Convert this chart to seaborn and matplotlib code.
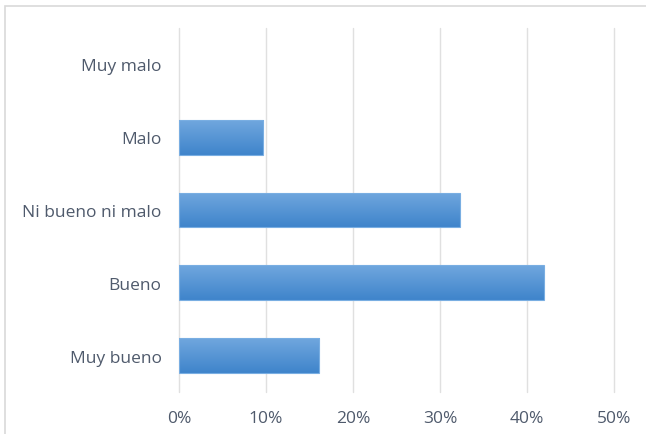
import matplotlib
matplotlib.use("Agg")
import matplotlib.pyplot as plt
import matplotlib.patches as mpatches
from matplotlib.colors import LinearSegmentedColormap
from matplotlib.ticker import PercentFormatter
import numpy as np
import pandas as pd
import seaborn as sns

categories = ["Muy malo", "Malo", "Ni bueno ni malo", "Bueno", "Muy bueno"]
shares = [0.0, 0.0968, 0.3226, 0.4194, 0.1613]
x_ticks = [0.0, 0.1, 0.2, 0.3, 0.4, 0.5]

df = pd.DataFrame({"categoria": categories, "porcentaje": shares})

sns.set_theme(style="white")
plt.rcParams["font.family"] = ["Open Sans", "DejaVu Sans"]

W, H = 646, 435
fig = plt.figure(figsize=(W / 100, H / 100), dpi=100)
ax = fig.add_axes([179 / W, 1 - 393 / H, (614 - 179) / W, (393 - 29) / H])

sns.barplot(data=df, x="porcentaje", y="categoria", order=categories,
            color="#5B9BD5", width=0.48, ax=ax, zorder=2)

# vertical gradient on each bar: lighter at the top, darker at the bottom
grad = LinearSegmentedColormap.from_list("barfill", ["#70A7DE", "#3F84CB"])
for patch in list(ax.patches):
    x0, y0 = patch.get_x(), patch.get_y()
    w, h = patch.get_width(), patch.get_height()
    patch.set_visible(False)
    if w <= 0:
        continue
    img = ax.imshow(np.linspace(0, 1, 64).reshape(-1, 1), cmap=grad,
                    extent=[x0, x0 + w, y0 + h, y0], aspect="auto",
                    origin="upper", zorder=3, interpolation="bilinear")
    clip = mpatches.Rectangle((x0, y0), w, h, transform=ax.transData)
    img.set_clip_path(clip)
    ax.add_patch(mpatches.Rectangle((x0, y0), w, h, fill=False,
                                    edgecolor="#79AEE2", linewidth=0.8,
                                    zorder=4))

ax.set_xlim(0, 0.5)
ax.set_ylim(4.5, -0.5)
ax.set_xticks(x_ticks)
ax.xaxis.set_major_formatter(PercentFormatter(xmax=1, decimals=0))
ax.grid(axis="x", color="#E0E0E0", linewidth=1, zorder=0)
ax.set_axisbelow(True)
for gl in ax.get_xgridlines():
    gl.set_clip_on(False)
for s in ax.spines.values():
    s.set_visible(False)
ax.set_xlabel("")
ax.set_ylabel("")
ax.tick_params(axis="both", length=0, labelsize=12.5, labelcolor="#4F5A6C")
ax.tick_params(axis="x", pad=13)
ax.tick_params(axis="y", pad=12.5)

# chart-area frame (only top and left edges fall inside the canvas)
frame = mpatches.Rectangle((5 / W, -0.1), 1.2, 1 - 7 / H + 0.1,
                           transform=fig.transFigure, fill=False,
                           edgecolor="#D9D9D9", linewidth=1.2)
fig.add_artist(frame)

fig.savefig("out.png", dpi=100, facecolor="white")
